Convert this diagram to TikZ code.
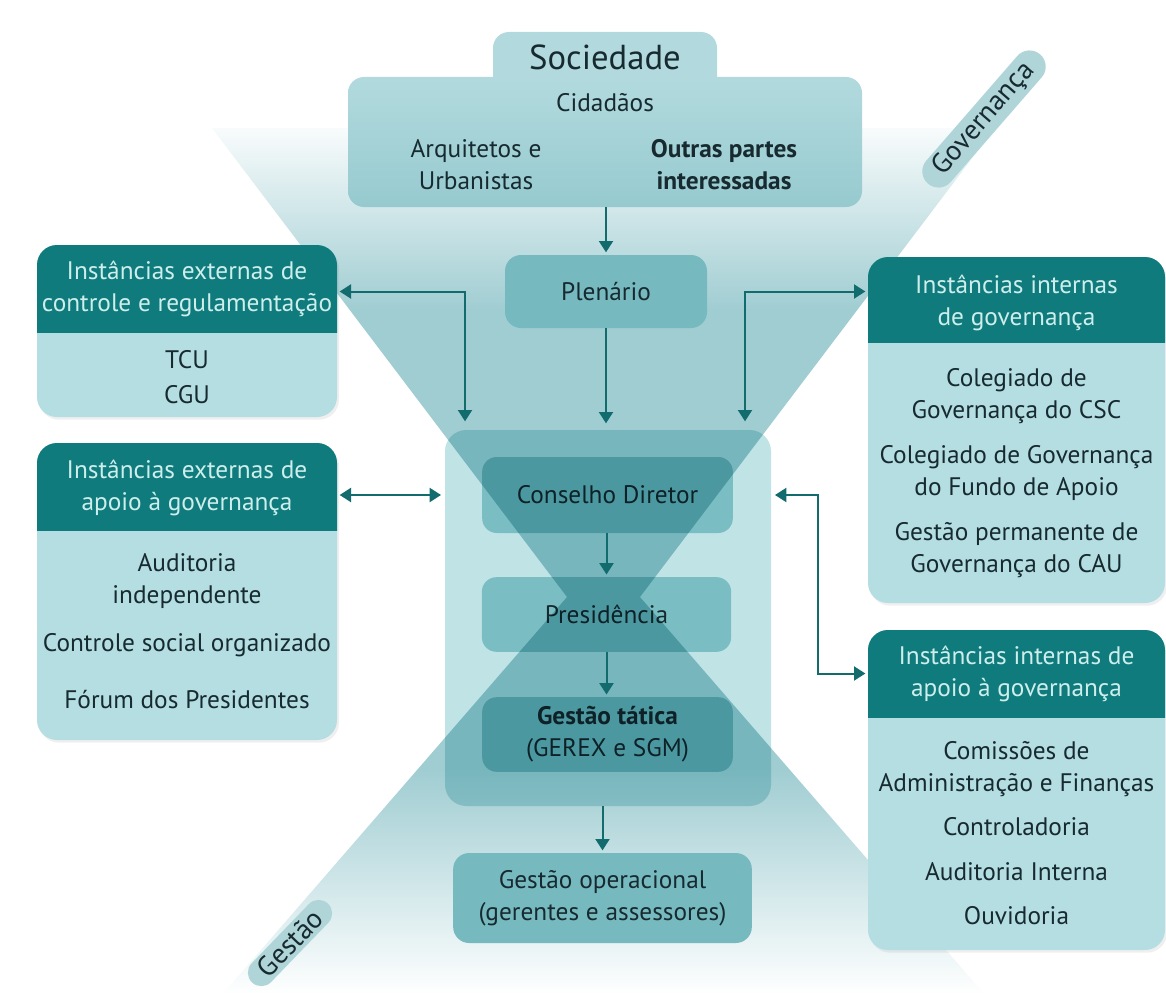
\documentclass[tikz,border=0pt]{standalone}
\usepackage{fontspec}
\setmainfont{PT Sans}
\usetikzlibrary{arrows.meta,fit,shadows,shapes.misc}
\definecolor{hdr}{RGB}{16,123,124}
\definecolor{bodyc}{RGB}{180,222,226}
\definecolor{hdrtxt}{RGB}{205,238,236}
\definecolor{txt}{RGB}{22,42,48}
\definecolor{arrowc}{RGB}{18,108,110}
\definecolor{funT}{RGB}{160,205,210}
\colorlet{funTpale}{funT!7!white}
\definecolor{cboxc}{RGB}{192,227,230}
\definecolor{innerc}{RGB}{122,190,196}
\definecolor{plenc}{RGB}{118,186,192}
\definecolor{soctop}{RGB}{178,218,222}
\definecolor{socbot}{RGB}{150,202,207}
\definecolor{pillc}{RGB}{176,213,217}
\pgfdeclareverticalshading{hourfade}{100bp}{color(0bp)=(white); color(25bp)=(white); color(38bp)=(funT); color(64.5bp)=(funT); color(75bp)=(funTpale); color(100bp)=(funTpale)}
\tikzset{
  every node/.style={font=\fontsize{19}{24}\selectfont, text=txt},
  area/.style={inner sep=0pt, outer sep=0pt},
  panel/.style={area, fill=bodyc, rounded corners=15pt, drop shadow={opacity=0.12, shadow xshift=1.5pt, shadow yshift=-2pt}},
  cboxst/.style={area, fill=cboxc, rounded corners=16pt},
  inbox/.style={area, fill=innerc, rounded corners=11pt, align=center},
  plbox/.style={area, fill=plenc, rounded corners=12pt, align=center},
  socbox/.style={area, top color=soctop, bottom color=socbot, rounded corners=12pt},
  soctabst/.style={area, fill=soctop, rounded corners=12pt},
  hdrtext/.style={text=hdrtxt, align=center},
  bodytext/.style={text=txt, align=center},
  pill/.style={shape=rounded rectangle, fill=pillc, inner xsep=7pt, inner ysep=2.5pt, font=\fontsize{21}{22}\selectfont},
  arr/.style={draw=arrowc, line width=1.5pt, -{Triangle[length=8.5pt,width=10.5pt]}, shorten >=2pt},
  darr/.style={draw=arrowc, line width=1.5pt, {Triangle[length=8.5pt,width=10.5pt]}-{Triangle[length=8.5pt,width=10.5pt]}, shorten >=2pt, shorten <=2pt}
}
\begin{document}
\begin{tikzpicture}[x=0.75pt,y=-0.75pt]
\useasboundingbox (0,0) rectangle (1166,999);
\fill[white] (0,0) rectangle (1166,999);

% central container and inner boxes
\node[cboxst, fit={(445,430) (771,806)}] (cbox) {};
\node[inbox, minimum width=188pt, minimum height=57pt] (cons) at (607.5,495) {Conselho Diretor};
\node[inbox, minimum width=187pt, minimum height=56pt] (pres) at (606.5,614.5) {Presidência};
\node[inbox, minimum width=188pt, minimum height=56pt] (tat) at (607.5,734.5) {\textbf{Gestão tática}\\(GEREX e SGM)};

% hourglass (governance / management funnels)
\begin{scope}[blend mode=multiply]
\shade[shading=hourfade] (212,128) -- (995,128) -- (640,597) -- (985,995) -- (222,995) -- (567,597) -- cycle;
\end{scope}

% Sociedade
\node[soctabst, fit={(493,32) (717,100)}] (soctab) {};
\node[socbox, fit={(348,77) (862,207)}] (soc) {};
\node[font=\fontsize{26}{28}\selectfont] (socT) at (605,57) {Sociedade};
\node[bodytext] (cid) at (605,103) {Cidadãos};
\node[bodytext] (arq) at (476,165) {Arquitetos e\\Urbanistas};
\node[bodytext, font=\fontsize{19}{24}\selectfont\bfseries] (outr) at (724,165) {Outras partes\\interessadas};

% Plenario and Gestao operacional
\node[plbox, minimum width=151.5pt, minimum height=54.75pt] (pl) at (606,291.5) {Plenário};
\node[plbox, minimum width=224pt, minimum height=67.5pt] (gop) at (602.5,898) {Gestão operacional\\(gerentes e assessores)};

% external control box
\node[panel, fit={(37,245) (337,417)}] (ext1) {};
\node[area, fit={(37,245) (337,332)}] (ext1h) {};
\begin{scope}
\clip (ext1h.north west) rectangle (ext1h.south east);
\fill[hdr, rounded corners=15pt] (ext1.north west) rectangle (ext1.south east);
\end{scope}
\node[hdrtext] (ext1t) at (187,289) {Instâncias externas de\\controle e regulamentação};
\node[bodytext] (tcu) at (187,360) {TCU};
\node[bodytext] (cgu) at (187,395) {CGU};

% external support box
\node[panel, fit={(37,443) (337,740)}] (ext2) {};
\node[area, fit={(37,443) (337,530)}] (ext2h) {};
\begin{scope}
\clip (ext2h.north west) rectangle (ext2h.south east);
\fill[hdr, rounded corners=15pt] (ext2.north west) rectangle (ext2.south east);
\end{scope}
\node[hdrtext] (ext2t) at (187,488) {Instâncias externas de\\apoio à governança};
\node[bodytext] (aud) at (187,581) {Auditoria\\independente};
\node[bodytext] (csoc) at (187,645) {Controle social organizado};
\node[bodytext] (forum) at (187,700) {Fórum dos Presidentes};

% internal governance box
\node[panel, fit={(868,257) (1165,603)}] (int1) {};
\node[area, fit={(868,257) (1165,342)}] (int1h) {};
\begin{scope}
\clip (int1h.north west) rectangle (int1h.south east);
\fill[hdr, rounded corners=15pt] (int1.north west) rectangle (int1.south east);
\end{scope}
\node[hdrtext] (int1t) at (1016.5,303) {Instâncias internas\\de governança};
\node[bodytext] (csc) at (1016.5,396) {Colegiado de\\Governança do CSC};
\node[bodytext] (fundo) at (1016.5,473) {Colegiado de Governança\\do Fundo de Apoio};
\node[bodytext] (gperm) at (1016.5,550) {Gestão permanente de\\Governança do CAU};

% internal support box
\node[panel, fit={(868,630) (1165,950)}] (int2) {};
\node[area, fit={(868,630) (1165,717)}] (int2h) {};
\begin{scope}
\clip (int2h.north west) rectangle (int2h.south east);
\fill[hdr, rounded corners=15pt] (int2.north west) rectangle (int2.south east);
\end{scope}
\node[hdrtext] (int2t) at (1016.5,674) {Instâncias internas de\\apoio à governança};
\node[bodytext] (caf) at (1016.5,769) {Comissões de\\Administração e Finanças};
\node[bodytext] (ctrl) at (1016.5,827) {Controladoria};
\node[bodytext] (audi) at (1016.5,872) {Auditoria Interna};
\node[bodytext] (ouv) at (1016.5,916) {Ouvidoria};

% side labels
\node[pill, rotate=49] (govp) at (984,119) {Governança};
\node[pill, rotate=46] (gesp) at (290,943) {Gestão};

% connectors
\coordinate (lc) at (465,424);
\coordinate (rc) at (745,424);
\coordinate (rv) at (818,495);
\draw[arr] (soc.south -| pl) -- (pl.north);
\draw[arr, shorten >=5pt] (pl.south) -- (pl.south |- cbox.north);
\draw[darr] (ext1h.east |- pl) -| (lc);
\draw[darr] (rc) |- (int1h.west |- pl);
\draw[darr, shorten >=3pt] (ext2h.east |- cons) -- (cbox.west |- cons);
\draw[darr, shorten <=3pt] (cbox.east |- cons) -- (rv) |- (int2h.west);
\draw[arr] (cons.south -| pres) -- (pres.north);
\draw[arr] (pres.south) -- (tat.north -| pres);
\draw[arr] (cbox.south -| gop) -- (gop.north);
\end{tikzpicture}
\end{document}
